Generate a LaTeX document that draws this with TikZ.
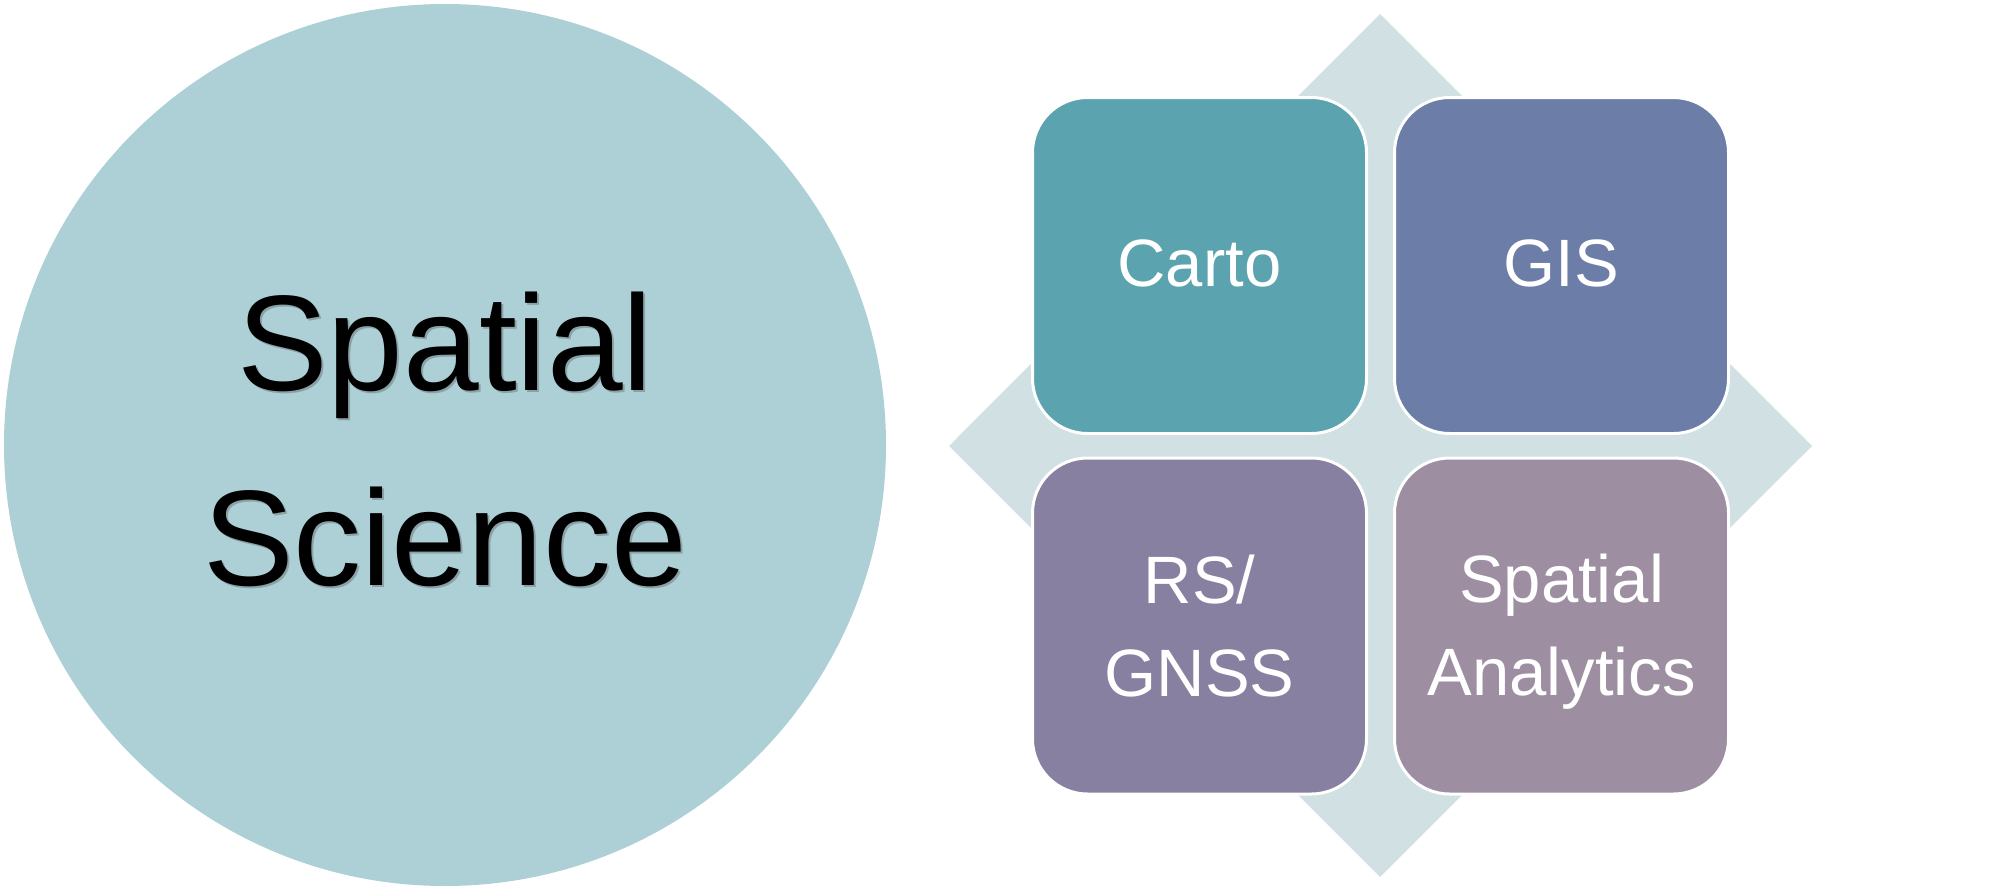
\documentclass[tikz,border=0pt]{standalone}
\usepackage{fontspec}
\setmainfont{Liberation Sans}
\definecolor{circfill}{RGB}{173,208,214}
\definecolor{diafill}{RGB}{208,224,227}
\definecolor{cartoc}{RGB}{91,163,175}
\definecolor{gisc}{RGB}{108,126,168}
\definecolor{rsc}{RGB}{136,128,160}
\definecolor{spac}{RGB}{157,143,161}
\begin{document}
\begin{tikzpicture}[x=1pt,y=-1pt,
  tile/.style={draw=white, line width=3pt, rounded corners=55pt, minimum width=334pt, minimum height=336pt,
    inner sep=0pt, text=white, align=center, font=\fontsize{67}{93}\selectfont},
  bigtext/.style={align=center, font=\fontsize{136}{195}\selectfont, inner sep=0pt}]
\useasboundingbox (0,0) rectangle (2011,892);
% big circle
\node[circle, fill=circfill, minimum size=882pt, inner sep=0pt] (sci) at (445,445) {};
\node[bigtext, text=black!70, opacity=0.35] (scishadow) at (447,441) {Spatial\\Science};
\node[bigtext, text=black] (scitxt) at (445,439) {Spatial\\Science};
% diamond
\fill[diafill] (1380,14) coordinate (dtop) -- (1812,446) coordinate (dright) -- (1380,877) coordinate (dbot) -- (949,446) coordinate (dleft) -- cycle;
% tiles
\node[tile, fill=cartoc] (carto) at (1199.5,265.5) {\raisebox{5pt}{Carto}};
\node[tile, fill=gisc] (gis) at (1561.5,265.5) {\raisebox{5pt}{GIS}};
\node[tile, fill=rsc] (rs) at (1199.5,626) {RS/\\GNSS};
\node[tile, fill=spac] (spa) at (1561.5,626) {\rule{0pt}{59pt}Spatial\\Analytics};
\end{tikzpicture}
\end{document}
